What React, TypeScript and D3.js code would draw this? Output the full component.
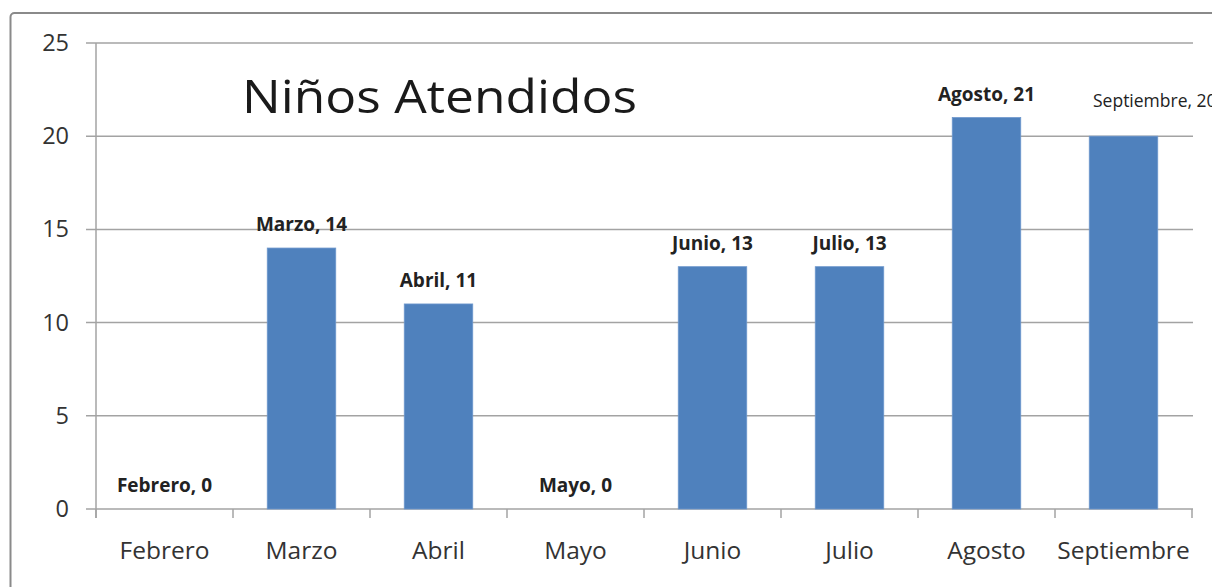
import React from "react";
import * as d3 from "d3";

const months = ["Febrero", "Marzo", "Abril", "Mayo", "Junio", "Julio", "Agosto", "Septiembre"];
const values = [0, 14, 11, 0, 13, 13, 21, 20];
const yTicks = [0, 5, 10, 15, 20, 25];
const title = "Niños Atendidos";

const W = 1212;
const H = 587;
const FONT = "'Open Sans', 'DejaVu Sans', sans-serif";

export default function App() {
  const x = d3.scaleBand<string>().domain(months).range([96, 1192]).paddingInner(0.5).paddingOuter(0.25);
  const y = d3.scaleLinear().domain([0, 25]).range([509, 43]);
  const step = x.step();
  const left = 96;
  const right = 1192;

  return (
    <div style={{ position: "absolute", left: 0, top: 0, width: W, height: H, overflow: "hidden", background: "#fff" }}>
      <svg width={W} height={H} style={{ display: "block" }}>
        <rect x={0} y={0} width={W} height={H} fill="#fff" />
        {/* outer chart border */}
        <rect x={10.5} y={13} width={W + 20} height={H + 20} rx={4} fill="none" stroke="#8a8a8a" strokeWidth={2} />
        {/* gridlines */}
        {yTicks.map((t) => (
          <line key={"g" + t} x1={86} x2={right + 1} y1={y(t)} y2={y(t)} stroke="#a3a3a3" strokeWidth={1.5} />
        ))}
        {/* y axis */}
        <line x1={left} x2={left} y1={y(25)} y2={y(0) + 9} stroke="#a3a3a3" strokeWidth={1.5} />
        {/* x tick marks */}
        {d3.range(months.length + 1).map((i) => (
          <line key={"xt" + i} x1={left + i * step} x2={left + i * step} y1={y(0)} y2={y(0) + 9} stroke="#a3a3a3" strokeWidth={1.5} />
        ))}
        {/* y tick labels */}
        {yTicks.map((t) => (
          <text key={"yl" + t} x={69} y={y(t) + 8} textAnchor="end" fontFamily={FONT} fontSize={23.5} fill="#333">
            {t}
          </text>
        ))}
        {/* bars */}
        {months.map((m, i) => (
          <rect key={"b" + m} x={x(m)!} y={y(values[i])} width={x.bandwidth()} height={y(0) - y(values[i])} fill="#4F81BD" stroke="#6d97cc" strokeWidth={0.8} />
        ))}
        {/* x category labels */}
        {months.map((m) => (
          <text key={"xl" + m} x={x(m)! + x.bandwidth() / 2} y={559} textAnchor="middle" fontFamily={FONT} fontSize={24.5} fill="#333">
            {m}
          </text>
        ))}
        {/* data labels */}
        {months.map((m, i) =>
          m === "Septiembre" ? (
            <text key={"dl" + m} x={1093} y={107} textAnchor="start" fontFamily={FONT} fontSize={17.5} fill="#222">
              {`${m}, ${values[i]}`}
            </text>
          ) : (
            <text key={"dl" + m} x={x(m)! + x.bandwidth() / 2} y={y(values[i]) - 17} textAnchor="middle" fontFamily={FONT} fontWeight="bold" fontSize={19} fill="#222">
              {`${m}, ${values[i]}`}
            </text>
          )
        )}
        {/* title */}
        <text x={242} y={113} fontFamily={FONT} fontSize={45} fill="#1a1a1a" textLength={395} lengthAdjust="spacingAndGlyphs">
          {title}
        </text>
      </svg>
    </div>
  );
}
